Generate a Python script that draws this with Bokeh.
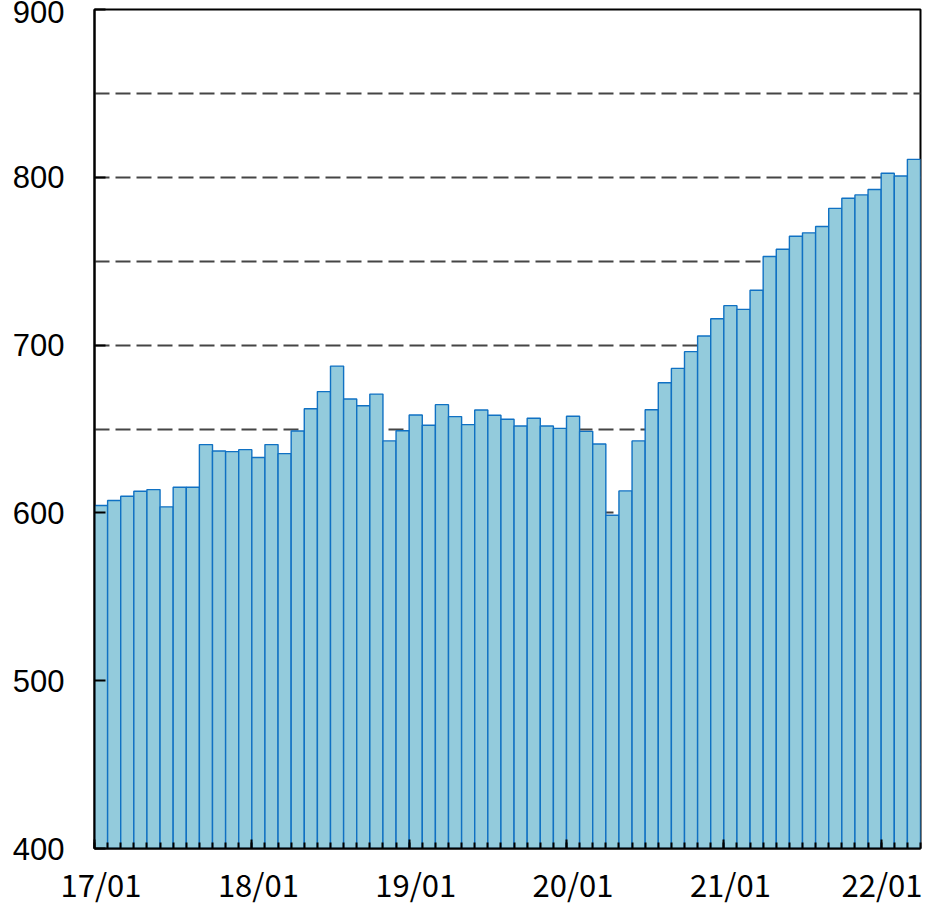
from bokeh.plotting import figure
from bokeh.models import (ColumnDataSource, FixedTicker, LinearAxis, Range1d,
                          SingleIntervalTicker)
from bokeh.embed import file_html
from bokeh.resources import INLINE

# ---- data -----------------------------------------------------------------
years = ["17", "18", "19", "20", "21", "22"]
month_labels = [f"{y}/{m:02d}" for y in years for m in range(1, 13)][:63]

v2017 = [604.4, 607.4, 609.9, 612.9, 613.9, 603.6, 615.3, 615.3, 640.7, 636.9, 636.5, 637.7]
v2018 = [633.0, 640.7, 635.3, 648.8, 662.1, 672.3, 687.5, 667.9, 663.9, 670.8, 642.9, 649.0]
v2019 = [658.3, 652.2, 664.5, 657.4, 652.6, 661.3, 658.2, 655.8, 651.8, 656.4, 651.8, 650.4]
v2020 = [657.6, 648.6, 641.1, 598.6, 613.1, 642.9, 661.5, 677.6, 686.1, 696.1, 705.4, 715.7]
v2021 = [723.5, 721.3, 732.7, 752.8, 757.1, 764.9, 766.9, 770.7, 781.5, 787.5, 789.5, 792.7]
v2022 = [802.4, 800.8, 810.7]
values = v2017 + v2018 + v2019 + v2020 + v2021 + v2022

y_ticks = [400, 500, 600, 700, 800, 900]
label_months = [m for m in month_labels if m.endswith("/01")]

# ---- derived --------------------------------------------------------------
idx = list(range(len(values)))
src = ColumnDataSource(dict(x=idx, top=values, label=month_labels))
label_pos = [month_labels.index(m) for m in label_months]
boundaries = [i - 0.5 for i in range(len(values) + 1)]
year_bounds = [p - 0.5 for p in label_pos]

p = figure(frame_width=826, frame_height=839, output_backend="svg", toolbar_location=None,
           x_range=Range1d(-0.5, len(values) - 0.5), y_range=Range1d(400, 900),
           min_border_left=94, min_border_right=2, min_border_top=9,
           min_border_bottom=0)
p.background_fill_color = "white"
p.border_fill_color = "white"
p.outline_line_color = "black"
p.outline_line_width = 2

p.vbar(x="x", top="top", bottom=400, width=1.0, source=src,
       fill_color="#93CBDC", line_color="#1071C3", line_width=1.4)

# grid
p.xgrid.visible = False
p.ygrid.ticker = SingleIntervalTicker(interval=50)
p.ygrid.grid_line_color = "#454545"
p.ygrid.grid_line_width = 2
p.ygrid.grid_line_dash = "15 6"

# y axis
ya = p.yaxis[0]
ya.ticker = FixedTicker(ticks=y_ticks)
ya.axis_line_color = "black"
ya.axis_line_width = 2
ya.major_tick_in = 11
ya.major_tick_out = 0
ya.major_tick_line_color = "black"
ya.major_tick_line_width = 2
ya.minor_tick_line_color = None
ya.major_label_text_font = "Liberation Sans"
ya.major_label_text_font_size = "31px"
ya.major_label_text_color = "black"
ya.major_label_standoff = 30

# x axis (ticks only)
xa = p.xaxis[0]
xa.ticker = FixedTicker(ticks=year_bounds, minor_ticks=boundaries)
xa.axis_line_color = "black"
xa.axis_line_width = 2
xa.major_tick_in = 9
xa.major_tick_out = 0
xa.minor_tick_in = 6
xa.minor_tick_out = 0
xa.major_tick_line_color = "black"
xa.minor_tick_line_color = "black"
xa.major_tick_line_width = 2
xa.minor_tick_line_width = 2
xa.major_label_overrides = {b: "" for b in year_bounds}
xa.major_label_text_font_size = "1px"
xa.major_label_standoff = 0

# x axis (labels)
xl = LinearAxis(ticker=FixedTicker(ticks=label_pos),
                major_label_overrides={pos: m for pos, m in zip(label_pos, label_months)})
xl.axis_line_color = None
xl.major_tick_line_color = None
xl.minor_tick_line_color = None
xl.major_tick_in = 0
xl.major_tick_out = 0
xl.major_label_text_font = "Noto Sans CJK JP"
xl.major_label_text_font_size = "31px"
xl.major_label_text_color = "black"
xl.major_label_standoff = 12
p.add_layout(xl, "below")

open("out.html", "w").write(file_html(p, INLINE))
